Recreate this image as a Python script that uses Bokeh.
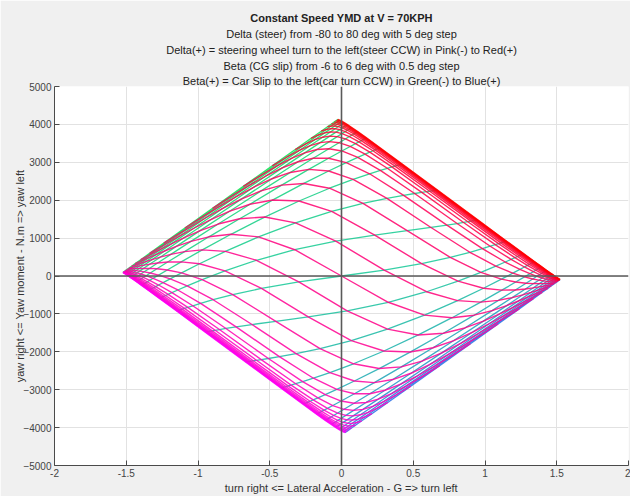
import numpy as np
from bokeh.plotting import figure
from bokeh.models import Span, FixedTicker, Range1d, Title
from bokeh.embed import file_html
from bokeh.resources import INLINE

# Sweep inputs: steering-wheel angle (deg) and CG slip angle (deg)
delta_sw_deg = [-80, -75, -70, -65, -60, -55, -50, -45, -40, -35, -30, -25, -20,
                -15, -10, -5, 0, 5, 10, 15, 20, 25, 30, 35, 40, 45, 50, 55, 60,
                65, 70, 75, 80]
beta_deg = [-6.0, -5.5, -5.0, -4.5, -4.0, -3.5, -3.0, -2.5, -2.0, -1.5, -1.0,
            -0.5, 0.0, 0.5, 1.0, 1.5, 2.0, 2.5, 3.0, 3.5, 4.0, 4.5, 5.0, 5.5, 6.0]

# Vehicle / tyre description used for the constant-speed diagram
speed_kph = 70.0
mass_kg = 362.0
cg_to_front_m = 0.78
cg_to_rear_m = 0.79
steer_ratio = 5.5
front_peak_force_N = 2682.0
rear_peak_force_N = 2868.0
tyre_B = 24.6
tyre_C = 1.0

x_ticks = [-2, -1.5, -1, -0.5, 0, 0.5, 1, 1.5, 2]
y_ticks = [-5000, -4000, -3000, -2000, -1000, 0, 1000, 2000, 3000, 4000, 5000]

G = 9.81
V = speed_kph / 3.6
a, b = cg_to_front_m, cg_to_rear_m


def lateral_force(alpha, peak):
    return -peak * np.sin(tyre_C * np.arctan(tyre_B * alpha))


# grid: rows = steer, cols = CG slip; yaw rate from steady-state Ay = V*r
dw = np.radians(np.array(delta_sw_deg, float)) / steer_ratio
bt = np.radians(np.array(beta_deg, float))
DW, BT = np.meshgrid(dw, bt, indexing="ij")
r = np.zeros_like(DW)
for _ in range(400):
    alpha_f = -BT + a * r / V - DW
    alpha_r = -BT - b * r / V
    Ff = lateral_force(alpha_f, front_peak_force_N)
    Fr = lateral_force(alpha_r, rear_peak_force_N)
    ay = (Ff + Fr) / mass_kg
    r = 0.5 * r + 0.5 * ay / V
ay_g = ay / G
yaw_moment = a * Ff - b * Fr

p = figure(width=630, height=496, output_backend="svg", toolbar_location=None,
           x_range=Range1d(-2, 2), y_range=Range1d(-5000, 5000),
           min_border_left=54, min_border_right=2, min_border_top=86,
           min_border_bottom=31, title_location=None)
p.background_fill_color = "white"
p.border_fill_color = "#f0f0f0"
p.outline_line_color = None

for ax in (p.xaxis[0], p.yaxis[0]):
    ax.axis_line_color = "#4a4a4a"
    ax.major_tick_line_color = "#4a4a4a"
    ax.major_tick_in = 5
    ax.major_tick_out = 0
    ax.minor_tick_line_color = None
    ax.major_label_text_font = "Liberation Sans"
    ax.major_label_text_font_size = "10px"
    ax.major_label_text_color = "#444444"
    ax.axis_label_text_font = "Liberation Sans"
    ax.axis_label_text_font_size = "11px"
    ax.axis_label_text_font_style = "normal"
    ax.axis_label_text_color = "#333333"
    ax.major_label_standoff = 3

p.xaxis.ticker = FixedTicker(ticks=x_ticks)
p.yaxis.ticker = FixedTicker(ticks=y_ticks)
p.xaxis.major_label_overrides = {t: f"{t:g}" for t in x_ticks}
p.xaxis.axis_label = "turn right <= Lateral Acceleration - G => turn left"
p.yaxis.axis_label = "yaw right <= Yaw moment - N.m => yaw left"
p.xaxis.axis_label_standoff = 2
p.yaxis.axis_label_standoff = -6

p.grid.grid_line_color = "#e2e2e2"
p.grid.grid_line_width = 1

p.add_layout(Span(location=0, dimension="width", line_color="#5a5a5a", line_width=1.6))
p.add_layout(Span(location=0, dimension="height", line_color="#5a5a5a", line_width=1.6))


def mix(stops, t):
    if t <= 0.5:
        c0, c1, u = stops[0], stops[1], t / 0.5
    else:
        c0, c1, u = stops[1], stops[2], (t - 0.5) / 0.5
    return "#%02x%02x%02x" % tuple(int(round(c0[i] + (c1[i] - c0[i]) * u)) for i in range(3))


# constant CG-slip lines (green -> blue)
nb = len(beta_deg)
beta_xs = [list(ay_g[:, j]) for j in range(nb)]
beta_ys = [list(yaw_moment[:, j]) for j in range(nb)]
green_blue = [(10, 225, 80), (20, 200, 150), (40, 110, 230)]
beta_cols = [mix(green_blue, j / (nb - 1)) for j in range(nb)]
p.multi_line(beta_xs, beta_ys, line_color=beta_cols, line_width=1.3, line_alpha=0.85)

# constant steer lines (pink -> red)
nd = len(delta_sw_deg)
delta_xs = [list(ay_g[i, :]) for i in range(nd)]
delta_ys = [list(yaw_moment[i, :]) for i in range(nd)]
pink_red = [(255, 0, 255), (255, 0, 128), (255, 0, 0)]
delta_cols = [mix(pink_red, i / (nd - 1)) for i in range(nd)]
p.multi_line(delta_xs, delta_ys, line_color=delta_cols, line_width=1.4, line_alpha=0.85)

# multi-line heading above the axes (first added sits nearest the axes)
heading = [
    ("Constant Speed YMD at V = 70KPH", "bold"),
    ("Delta (steer) from -80 to 80 deg with 5 deg step", "normal"),
    ("Delta(+) = steering wheel turn to the left(steer CCW) in Pink(-) to Red(+)", "normal"),
    ("Beta (CG slip) from -6 to 6 deg with 0.5 deg step", "normal"),
    ("Beta(+) = Car Slip to the left(car turn CCW) in Green(-) to Blue(+)", "normal"),
]
for k, (txt, style) in enumerate(reversed(heading)):
    p.add_layout(Title(text=txt, align="center", text_font="Liberation Sans",
                       text_font_size="11px", text_font_style=style,
                       text_color="#222222", standoff=0 if k == 0 else 2), "above")

open("out.html", "w").write(file_html(p, INLINE))
